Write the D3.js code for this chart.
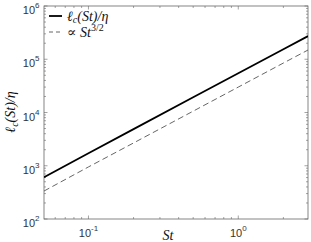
<!DOCTYPE html>
<html lang="en">
<head>
<meta charset="UTF-8" />
<title>Correlation length vs St</title>
<style>
  html, body { margin:0; padding:0; background:#fff; }
  svg { display:block; }
  .tick-label { font-family: "Liberation Sans", Arial, sans-serif; font-size:11px; fill:#333; }
  .math { font-family: "Liberation Serif", "DejaVu Serif", serif; font-style:italic; fill:#111; }
</style>
</head>
<body>
<svg id="chart" width="311" height="242"></svg>
<script src="https://d3js.org/d3.v7.min.js"></script>
<script>
// data
const stValues   = [0.0505, 0.1, 0.2, 0.5, 1, 2, 2.92];
const lcValues   = [610, 1720, 4870, 19300, 54500, 154000, 272000];
const fitValues  = [335, 950, 2680, 10600, 30000, 84900, 149000];
const xMajor = [-1, 0];            // exponents of 10
const yMajor = [2, 3, 4, 5, 6];

const svg = d3.select('#chart');
const mL = 44, mR = 308, mT = 6, mB = 219;

const x = d3.scaleLog().domain([0.0505, 2.92]).range([mL, mR]);
const y = d3.scaleLog().domain([1e2, 1e6]).range([mB, mT]);

const axisColor = '#666';

// minor tick positions
const xMinor = [];
[0.01, 0.1, 1].forEach(b => { for (let k = 2; k <= 9; k++) { const v = b * k; if (v > 0.0505 && v < 2.92) xMinor.push(v); } });
const yMinor = [];
[100, 1000, 10000, 100000].forEach(b => { for (let k = 2; k <= 9; k++) yMinor.push(b * k); });

const g = svg.append('g');

// ticks (inward on all four sides)
const tickG = g.append('g').attr('stroke', axisColor).attr('stroke-width', 0.6);
function xTick(v, len) {
  tickG.append('line').attr('x1', x(v)).attr('x2', x(v)).attr('y1', mB).attr('y2', mB - len);
  tickG.append('line').attr('x1', x(v)).attr('x2', x(v)).attr('y1', mT).attr('y2', mT + len);
}
function yTick(v, len) {
  tickG.append('line').attr('y1', y(v)).attr('y2', y(v)).attr('x1', mL).attr('x2', mL + len);
  tickG.append('line').attr('y1', y(v)).attr('y2', y(v)).attr('x1', mR).attr('x2', mR - len);
}
xMajor.forEach(e => xTick(Math.pow(10, e), 3.5));
xMinor.forEach(v => xTick(v, 2));
yMajor.forEach(e => yTick(Math.pow(10, e), 3.5));
yMinor.forEach(v => yTick(v, 2));

// box
g.append('rect')
  .attr('x', mL).attr('y', mT)
  .attr('width', mR - mL).attr('height', mB - mT)
  .attr('fill', 'none').attr('stroke', axisColor).attr('stroke-width', 0.8);

// tick labels
xMajor.forEach(e => {
  const t = g.append('text').attr('class', 'tick-label')
    .attr('x', x(Math.pow(10, e))).attr('y', 236.5).attr('text-anchor', 'middle');
  t.append('tspan').text('10');
  t.append('tspan').attr('dy', -6).attr('font-size', '8px').text(e);
});
yMajor.forEach(e => {
  const t = g.append('text').attr('class', 'tick-label')
    .attr('x', 39.5).attr('y', y(Math.pow(10, e)) + 8).attr('text-anchor', 'end');
  t.append('tspan').text('10');
  t.append('tspan').attr('dy', -6).attr('font-size', '8px').text(e);
});

// lines
const pts = stValues.map((s, i) => ({ s, lc: lcValues[i], fit: fitValues[i] }));
const lineLc = d3.line().x(d => x(d.s)).y(d => y(d.lc));
const lineFit = d3.line().x(d => x(d.s)).y(d => y(d.fit));

const clip = svg.append('defs').append('clipPath').attr('id', 'clip');
clip.append('rect').attr('x', mL).attr('y', mT).attr('width', mR - mL).attr('height', mB - mT);

g.append('path').datum(pts).attr('d', lineFit)
  .attr('clip-path', 'url(#clip)')
  .attr('fill', 'none').attr('stroke', '#555').attr('stroke-width', 0.9)
  .attr('stroke-dasharray', '6,3.5');
g.append('path').datum(pts).attr('d', lineLc)
  .attr('clip-path', 'url(#clip)')
  .attr('fill', 'none').attr('stroke', '#000').attr('stroke-width', 1.8);

// legend
const leg = g.append('g');
leg.append('line').attr('x1', 49).attr('x2', 62).attr('y1', 16).attr('y2', 16)
  .attr('stroke', '#000').attr('stroke-width', 1.8);
leg.append('line').attr('x1', 49).attr('x2', 62).attr('y1', 32).attr('y2', 32)
  .attr('stroke', '#555').attr('stroke-width', 0.9).attr('stroke-dasharray', '4,3');

function lcLabel(sel) {
  sel.append('tspan').text('ℓ');
  sel.append('tspan').attr('dy', 2.5).attr('font-size', '10px').text('c');
  sel.append('tspan').attr('dy', -2.5).text('(');
  sel.append('tspan').text('St');
  sel.append('tspan').text(')/');
  sel.append('tspan').text('η');
}
const t1 = leg.append('text').attr('class', 'math').attr('x', 67).attr('y', 20.5).attr('font-size', '14px');
lcLabel(t1);
const t2 = leg.append('text').attr('class', 'math').attr('x', 67).attr('y', 36.5).attr('font-size', '14px');
t2.append('tspan').attr('font-style', 'normal').text('∝ ');
t2.append('tspan').text('St');
t2.append('tspan').attr('dy', -5.5).attr('font-size', '10px').attr('font-style', 'normal').text('3/2');

// axis titles
const yl = g.append('text').attr('class', 'math').attr('font-size', '14px')
  .attr('text-anchor', 'middle')
  .attr('transform', 'translate(15,112) rotate(-90)');
lcLabel(yl);

g.append('text').attr('class', 'math').attr('font-size', '14px')
  .attr('x', 168).attr('y', 239.5).attr('text-anchor', 'middle').text('St');
</script>
</body>
</html>
